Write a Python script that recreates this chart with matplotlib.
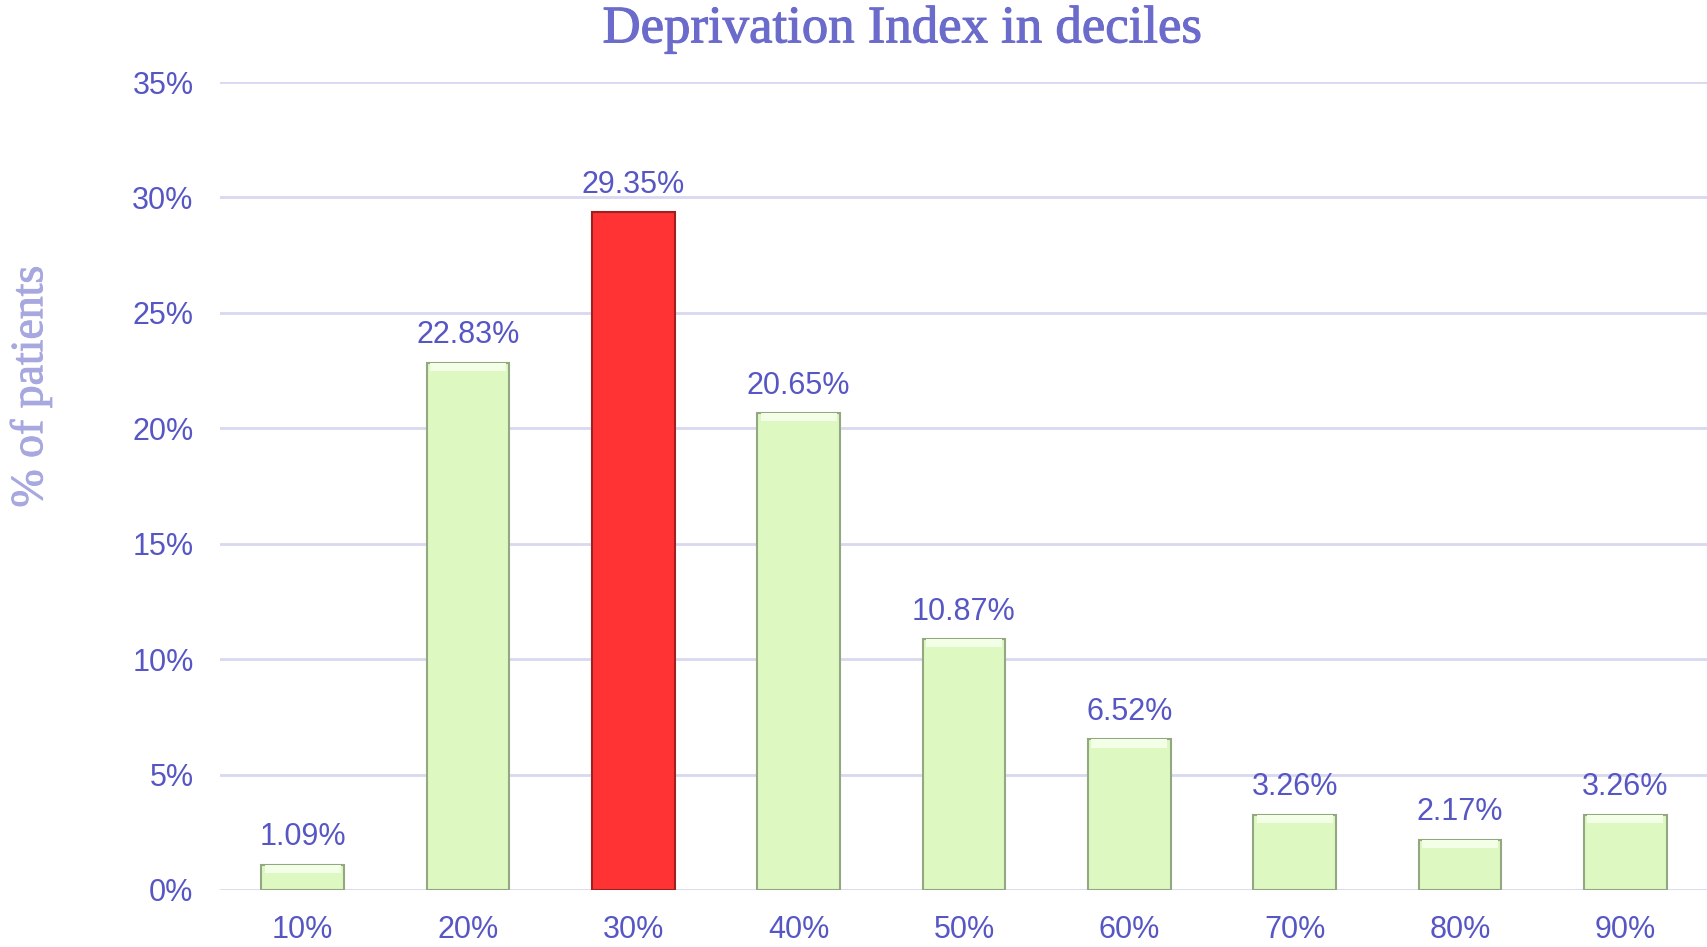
import matplotlib.pyplot as plt
import matplotlib.patheffects as pe
from matplotlib.ticker import FuncFormatter

deciles = ["10%", "20%", "30%", "40%", "50%", "60%", "70%", "80%", "90%"]
values = [1.09, 22.83, 29.35, 20.65, 10.87, 6.52, 3.26, 2.17, 3.26]
highlight = "30%"

TEXT = "#5656C4"
GREEN = "#DDF8C0"
RED = "#FF3333"

fig = plt.figure(figsize=(17.08, 9.47), dpi=100)
ax = fig.add_axes([0.1288, 0.0602, 0.8712, 0.8532])

colors = [RED if d == highlight else GREEN for d in deciles]
edges = ["#A02020" if d == highlight else "#93A882" for d in deciles]
x = range(len(deciles))
ax.bar(x, values, width=0.5, color=colors, edgecolor=edges, linewidth=1.5, zorder=3)
# light bevel along the top of each green bar
for xi, v, d in zip(x, values, deciles):
    if d != highlight:
        ax.bar(xi, 0.35, bottom=v - 0.35, width=0.46, color="#F4FFE8", linewidth=0, zorder=4)

for xi, v in zip(x, values):
    ax.annotate(f"{v:.2f}%", (xi, v), xytext=(0, 9), textcoords="offset points",
                ha="center", va="bottom", fontsize=22, color=TEXT, family="Liberation Sans")

ax.set_xlim(-0.5, len(deciles) - 0.5)
ax.set_ylim(0, 35)
ax.set_yticks(range(0, 36, 5))
ax.yaxis.set_major_formatter(FuncFormatter(lambda v, p: f"{int(v)}%"))
ax.set_xticks(list(x))
ax.set_xticklabels(deciles)
ax.tick_params(length=0, labelsize=22, labelcolor=TEXT)
ax.tick_params(axis="y", pad=19)
ax.tick_params(axis="x", pad=18)
for lab in ax.get_xticklabels() + ax.get_yticklabels():
    lab.set_family("Liberation Sans")
ax.grid(axis="y", color="#D8D8F0", linewidth=2, zorder=0)
for s in ax.spines.values():
    s.set_visible(False)

fig.text(0.528, 0.969, "Deprivation Index in deciles", ha="center", va="center",
         fontsize=38, color="#6B6BCB", family="Liberation Serif",
         path_effects=[pe.withStroke(linewidth=0.8, foreground="#6B6BCB")])
fig.text(0.018, 0.592, "% of patients", rotation=90, ha="center", va="center",
         fontsize=33, color="#A8A8E0", family="Liberation Serif",
         path_effects=[pe.withStroke(linewidth=0.7, foreground="#A8A8E0")])

fig.savefig("out.png", dpi=100)
